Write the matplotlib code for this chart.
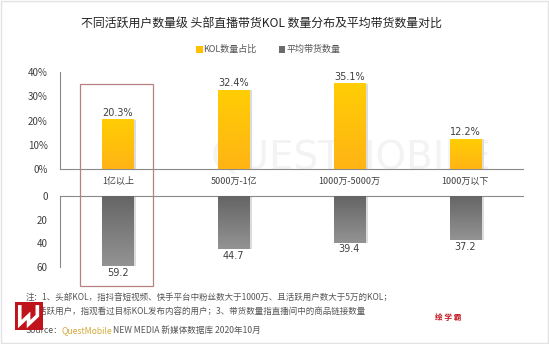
import numpy as np
import matplotlib.pyplot as plt
import matplotlib.transforms as mtransforms
from matplotlib.colors import LinearSegmentedColormap
from matplotlib.lines import Line2D
from matplotlib.patches import Rectangle

plt.rcParams['font.family'] = ['Noto Sans CJK SC', 'DejaVu Sans']

categories = ['1亿以上', '5000万-1亿', '1000万-5000万', '1000万以下']
kol_share = [20.3, 32.4, 35.1, 12.2]
avg_goods = [59.2, 44.7, 39.4, 37.2]
share_ticks = [0, 10, 20, 30, 40]
goods_ticks = [0, 20, 40, 60]

title = '不同活跃用户数量级 头部直播带货KOL 数量分布及平均带货数量对比'
note1 = '注：1、头部KOL，指抖音短视频、快手平台中粉丝数大于1000万、且活跃用户数大于5万的KOL；'
note2 = '2、活跃用户，指观看过目标KOL发布内容的用户；3、带货数量指直播间中的商品链接数量'

yellow_top, yellow_bot = '#ffcd05', '#ffb414'
gray_top, gray_bot = '#656565', '#939393'
axis_color = '#8a8a8a'
text_color = '#404040'


def gradient_bar(ax, x, h, width, c_top, c_bot, down=False):
    """Draw a bar as a vertical colour gradient with a soft drop shadow."""
    ax.bar(x + 0.025, h, width, color='#dcdcdc', zorder=2)
    cmap = LinearSegmentedColormap.from_list('g', [c_top, c_bot])
    grad = np.linspace(0, 1, 64).reshape(-1, 1)
    if down:
        extent = (x - width / 2, x + width / 2, h, 0)
    else:
        extent = (x - width / 2, x + width / 2, 0, h)
    ax.imshow(grad, cmap=cmap, extent=extent, aspect='auto', zorder=3,
              origin='upper', interpolation='bilinear')


fig = plt.figure(figsize=(5.49, 3.44), dpi=100)
fig.patch.set_facecolor('white')

# faint watermark sitting behind the chart
bg = fig.add_axes([0, 0, 1, 1], zorder=-10)
bg.axis('off')
bg.text(0.64, 0.54, 'QUESTMOBILE', fontsize=28, color='#f3f3f3',
        ha='center', va='center', family='DejaVu Sans')

x = np.arange(len(categories))
bw = 0.27

ax_top = fig.add_axes([0.1093, 0.5087, 0.8434, 0.282])
ax_bot = fig.add_axes([0.1093, 0.2238, 0.8434, 0.2064])
for ax in (ax_top, ax_bot):
    ax.set_facecolor('none')
    ax.set_xlim(-0.5, len(categories) - 0.5)
    for s in ax.spines.values():
        s.set_visible(False)
    ax.spines['left'].set_visible(True)
    ax.spines['left'].set_color(axis_color)
    ax.spines['left'].set_linewidth(0.8)
    ax.tick_params(axis='both', length=0, labelsize=7, labelcolor=text_color, pad=9)
    ax.set_xticks([])

# upper panel: KOL share
ax_top.set_ylim(0, 40)
ax_top.set_yticks(share_ticks)
ax_top.set_yticklabels([f'{t}%' for t in share_ticks])
ax_top.spines['bottom'].set_visible(True)
ax_top.spines['bottom'].set_color(axis_color)
ax_top.spines['bottom'].set_linewidth(0.8)
for xi, v in zip(x, kol_share):
    gradient_bar(ax_top, xi, v, bw, yellow_top, yellow_bot)
    ax_top.text(xi, v + 0.8, f'{v}%', ha='center', va='bottom', fontsize=7,
                color=text_color, family='DejaVu Sans')
    ax_top.text(xi, -3.4, categories[xi], ha='center', va='top', fontsize=6.5,
                color=text_color)

# lower panel: average goods count, growing downwards
ax_bot.set_ylim(60, 0)
ax_bot.set_yticks(goods_ticks)
ax_bot.spines['top'].set_visible(True)
ax_bot.spines['top'].set_color(axis_color)
ax_bot.spines['top'].set_linewidth(0.8)
for xi, v in zip(x, avg_goods):
    gradient_bar(ax_bot, xi, v, bw, gray_top, gray_bot, down=True)
    ax_bot.text(xi, v + 1.5, f'{v}', ha='center', va='top', fontsize=7,
                color=text_color, family='DejaVu Sans')

# highlight box around the first group
trans = mtransforms.blended_transform_factory(ax_top.transData, fig.transFigure)
fig.patches.append(Rectangle((-0.33, 0.1686), 0.63, 0.587, transform=trans,
                             fill=False, edgecolor='#b88080', linewidth=0.9))

fig.text(0.477, 0.928, title, ha='center', va='center', fontsize=8.6,
         color='#222222', weight='medium')

# legend row
fig.patches.append(Rectangle((0.3570, 0.847), 0.012, 0.019, transform=fig.transFigure,
                             facecolor='#ffc000', edgecolor='none'))
fig.text(0.370, 0.857, 'KOL数量占比', fontsize=6.5, color='#555555', va='center')
fig.patches.append(Rectangle((0.5080, 0.847), 0.012, 0.019, transform=fig.transFigure,
                             facecolor='#6b6b6b', edgecolor='none'))
fig.text(0.522, 0.857, '平均带货数量', fontsize=6.5, color='#555555', va='center')

# notes and source
fig.text(0.046, 0.137, note1, fontsize=6.1, color='#555555', va='center')
fig.text(0.046, 0.096, note2, fontsize=6.1, color='#555555', va='center')
fig.text(0.046, 0.038, 'Source：', fontsize=6.2, color='#555555', va='center')
fig.text(0.112, 0.038, 'QuestMobile', fontsize=6.2, color='#d4a93a', va='center')
fig.text(0.206, 0.038, 'NEW MEDIA 新媒体数据库 2020年10月', fontsize=6.2,
         color='#555555', va='center')

# red corner logo with a white W stroke
fig.patches.append(Rectangle((0.027, 0.041), 0.051, 0.081, transform=fig.transFigure,
                             facecolor='#c0141c', edgecolor='none', zorder=5))
fig.lines.append(Line2D([0.036, 0.036, 0.052, 0.052, 0.068, 0.068],
                        [0.108, 0.058, 0.082, 0.058, 0.082, 0.108],
                        transform=fig.transFigure, color='white', linewidth=2.6,
                        solid_joinstyle='miter', zorder=6))
fig.text(0.816, 0.076, '绘 学 霸', fontsize=5.5, color='#c0141c', weight='bold',
         ha='center', va='center')

# thin frame around the whole image
fig.patches.append(Rectangle((0.002, 0.003), 0.996, 0.994, transform=fig.transFigure,
                             fill=False, edgecolor='#e2e2e2', linewidth=1))

fig.savefig('out.png', dpi=100)
